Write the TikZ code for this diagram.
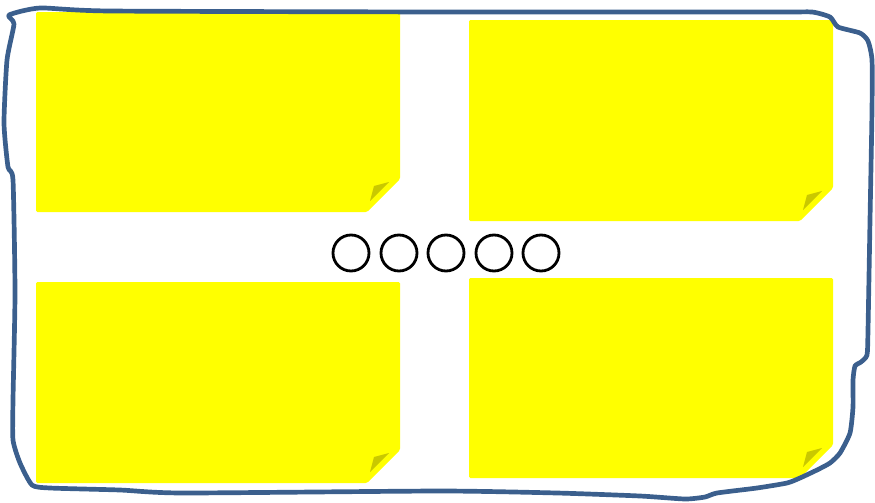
\documentclass[tikz,border=0pt]{standalone}
\usepackage{tikz}
\usetikzlibrary{calc}
\definecolor{frameblue}{HTML}{3B5F8D}
\definecolor{noteyellow}{HTML}{FFFF00}
\definecolor{notefold}{HTML}{C9C800}
\tikzset{
  frame/.style={draw=frameblue, line width=4pt, line join=round},
  note/.style={fill=noteyellow, rounded corners=1.2pt},
  fold/.style={fill=notefold},
  ring/.style={circle, draw=black, line width=2.4pt, minimum size=1.08cm, inner sep=0pt},
}

\begin{document}
\begin{tikzpicture}[x=0.03cm, y=-0.03cm]
  \useasboundingbox (0,0) rectangle (875,502);
  % sticky notes: left/top/right/bottom
  \foreach \xa/\ya/\xb/\yb/\n in {36/12/400/212/tl, 469/20/833/221/tr, 36/282/400/483/bl, 469/278/833/478/br}{
    \fill[note] (\xa,\ya) -- (\xb,\ya) -- (\xb,\yb-33) -- (\xb-33,\yb) -- (\xa,\yb) -- cycle;
    \coordinate (\n) at (\xb,\yb);
    \fill[fold] ($(\n)+(-26,-26)$) -- ($(\n)+(-11,-30)$) -- ($(\n)+(-30,-11)$) -- cycle;}
  % hand drawn frame
  \draw[frame] plot[smooth cycle, tension=0.35] coordinates {
    (9,15) (40,8) (110,11) (450,12) (780,12) (812,12) (830,17) (838,27) (860,33) (868,41)
    (872,60) (872,110) (870,220) (868,330) (867,355) (861,362) (855,366) (853,380) (853,407)
    (850,433) (840,453) (830,463) (817,470) (800,478) (787,483) (757,488) (717,493) (705,497)
    (685,499) (640,496) (557,493) (440,491) (183,493) (120,490) (50,488) (32,485) (20,463)
    (13,440) (13,400) (15,293) (13,180) (8,167) (4,123) (7,60) (14,24)};
  % row of rings
  \foreach \cx [count=\i] in {351,399,446,494,541}
    \node[ring] (ring\i) at (\cx,253) {};
\end{tikzpicture}
\end{document}
